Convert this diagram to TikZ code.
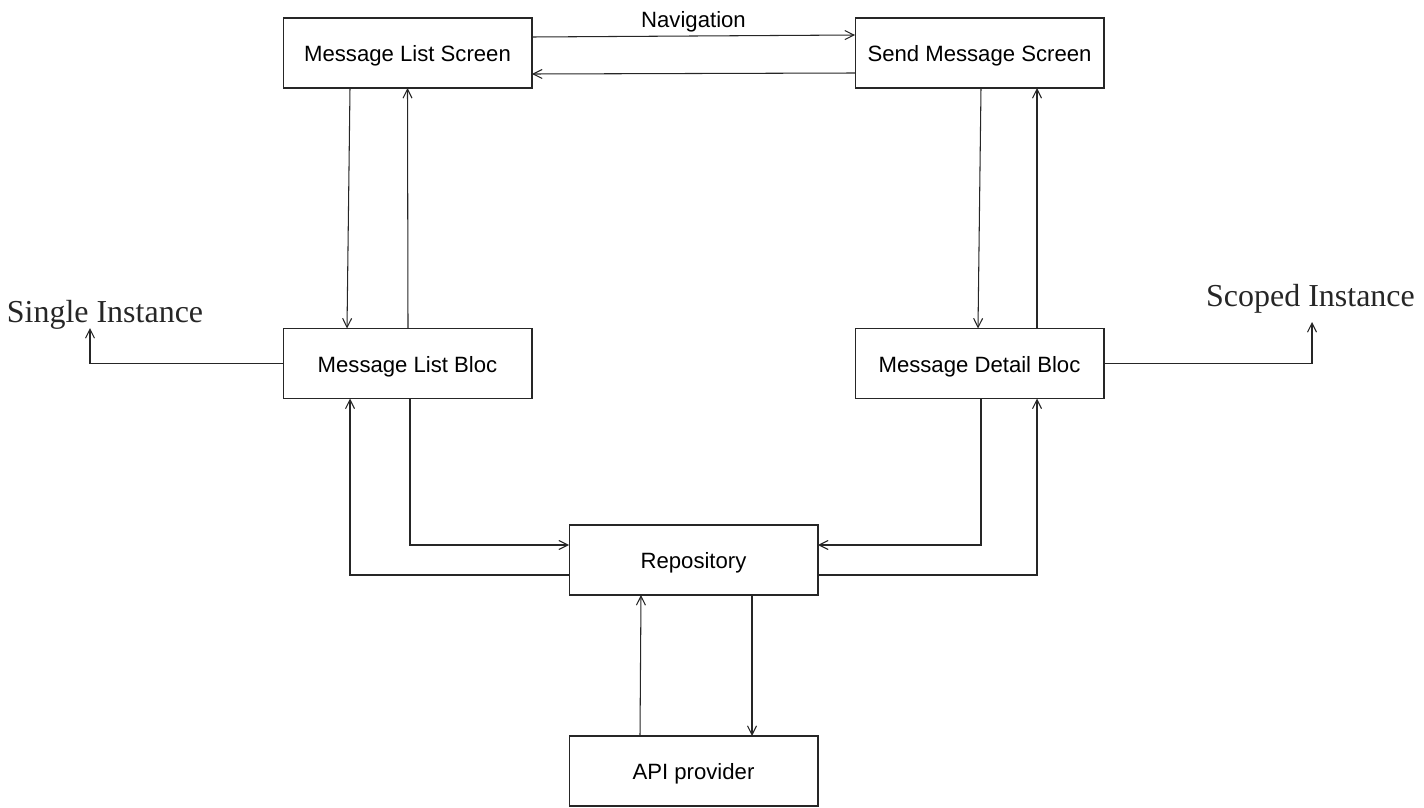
\documentclass[tikz,border=0pt]{standalone}
\usepackage{fontspec}
\setmainfont{Liberation Sans}
\newfontfamily\labelserif{Liberation Serif}
\usetikzlibrary{arrows.meta,calc}

\begin{document}
\begin{tikzpicture}[x=0.02cm,y=-0.02cm,
    box/.style={draw=black!85,line width=0.6pt,minimum width=4.98cm,minimum height=1.4cm,
        inner sep=0pt,outer sep=0pt,text height=10.2pt,text depth=0pt,
        font=\fontsize{12.6}{15}\selectfont},
    arr/.style={draw=black!85,line width=0.6pt,-{Straight Barb[length=1.8mm,width=1.8mm]}},
    scope label/.style={font=\labelserif\fontsize{18.2}{20}\selectfont,text=black!85,anchor=base}]
    \useasboundingbox (0,0) rectangle (1424,808);

    % Boxes
    \node[box] (mls) at (407.5,53) {Message List Screen};
    \node[box] (sms) at (979.5,53) {Send Message Screen};
    \node[box] (mlb) at (407.5,363.5) {Message List Bloc};
    \node[box] (mdb) at (979.5,363.5) {Message Detail Bloc};
    \node[box] (repo) at (693.5,560) {Repository};
    \node[box] (api) at (693.5,771) {API provider};

    % Labels
    \node[font=\fontsize{12.6}{15}\selectfont,anchor=base] (nav) at (693.5,28) {Navigation};
    \node[scope label] (single) at (105,322) {Single Instance};
    \node[scope label] (scoped) at (1310.5,306) {Scoped Instance};
    \coordinate (single in) at (90,328);
    \coordinate (scoped in) at (1312,322);

    % Screens
    \draw[arr] ($(mls.east)+(0,-16)$) -- ($(sms.west)+(0,-18)$);
    \draw[arr] ($(sms.west)+(0,20)$) -- ($(mls.east)+(0,21)$);
    \draw[arr] ($(mls.south)+(-57.5,0)$) -- ($(mlb.north)+(-60.5,0)$);
    \draw[arr] ($(mlb.north)+(0.5,0)$) -- (mls.south);
    \draw[arr] ($(sms.south)+(1.5,0)$) -- ($(mdb.north)+(-1.5,0)$);
    \draw[arr] ($(mdb.north)+(57.5,0)$) -- ($(sms.south)+(57.5,0)$);

    % Instances
    \draw[arr] (mlb.west) -| (single in);
    \draw[arr] (mdb.east) -| (scoped in);

    % Repository
    \draw[arr] ($(mlb.south)+(2.5,0)$) |- ($(repo.west)+(0,-15)$);
    \draw[arr] ($(repo.west)+(0,15)$) -| ($(mlb.south)+(-57.5,0)$);
    \draw[arr] ($(mdb.south)+(1.5,0)$) |- ($(repo.east)+(0,-15)$);
    \draw[arr] ($(repo.east)+(0,15)$) -| ($(mdb.south)+(57.5,0)$);
    \draw[arr] ($(api.north)+(-53.5,0)$) -- ($(repo.south)+(-52.5,0)$);
    \draw[arr] ($(repo.south)+(58.5,0)$) -- ($(api.north)+(58.5,0)$);
\end{tikzpicture}
\end{document}
